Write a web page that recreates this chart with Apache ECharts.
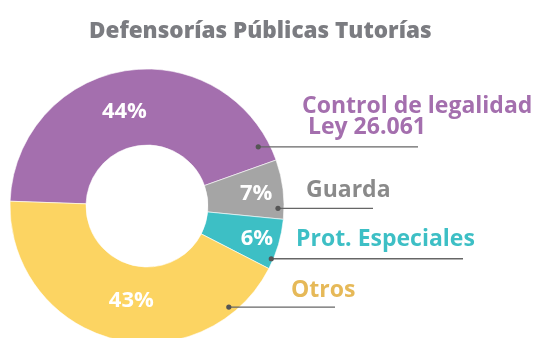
<!DOCTYPE html>
<html>
<head>
<meta charset="utf-8">
<script src="https://cdn.jsdelivr.net/npm/echarts@6/dist/echarts.min.js"></script>
<style>
  html, body { margin: 0; padding: 0; background: #ffffff; }
  #chart { width: 534px; height: 338px; }
</style>
</head>
<body>
<div id="chart"></div>
<script>
// Data
const titleText = 'Defensorías Públicas Tutorías';
const categories = ['Control de legalidad\n Ley 26.061', 'Guarda', 'Prot. Especiales', 'Otros'];
const shares = [44, 7, 6, 43];

// Styling
const sliceColors = ['#a46fae', '#a5a5a5', '#3dbfc5', '#fcd462'];
const nameColors = ['#a46fae', '#8a8a8a', '#3dbfc5', '#e6b958'];
const labelFont = '"Open Sans", sans-serif';
const CX = 147, CY = 206, R_IN = 61, R_OUT = 137;
const START_ANGLE = 178;
// Nudges for the percentage labels inside the ring
const pctOffsets = [[-7, 7], [8, 0], [12, 4], [10, -4]];
// Callouts: anchor angle (deg, ccw from 3 o'clock), anchor radius, line end x, text left x, text middle y
const callouts = [
  { angle: 28, r: 126, lineEnd: 418, textX: 302, textY: 117 },
  { angle: -1, r: 131, lineEnd: 373, textX: 306, textY: 190 },
  { angle: -23, r: 135, lineEnd: 463, textX: 296, textY: 239 },
  { angle: -51, r: 130, lineEnd: 335, textX: 291, textY: 290 }
];

function anchorOf(i) {
  const a = callouts[i].angle * Math.PI / 180;
  return [CX + callouts[i].r * Math.cos(a), CY - callouts[i].r * Math.sin(a)];
}

const chart = echarts.init(document.getElementById('chart'), null, { renderer: 'canvas' });

const ringData = categories.map((name, i) => ({
  name: name,
  value: shares[i],
  itemStyle: { color: sliceColors[i] },
  label: { offset: pctOffsets[i] }
}));

const calloutData = categories.map((name, i) => ({
  name: name,
  value: shares[i],
  itemStyle: { color: 'transparent' },
  label: { color: nameColors[i] }
}));

const dots = categories.map((_, i) => {
  const p = anchorOf(i);
  return {
    type: 'circle',
    shape: { cx: p[0], cy: p[1], r: 2.6 },
    style: { fill: '#555555' },
    z: 100,
    silent: true
  };
});

chart.setOption({
  animation: false,
  title: {
    text: titleText,
    left: 84,
    top: 15,
    textStyle: {
      fontFamily: '"Open Sans", sans-serif',
      fontWeight: 800,
      fontSize: 22.5,
      color: '#7b7c81'
    }
  },
  series: [
    {
      type: 'pie',
      center: [CX, CY],
      radius: [R_IN, R_OUT],
      startAngle: START_ANGLE,
      clockwise: true,
      avoidLabelOverlap: false,
      silent: true,
      itemStyle: { borderColor: '#ffffff', borderWidth: 0.6 },
      label: {
        show: true,
        position: 'inside',
        formatter: p => p.value + '%',
        color: '#ffffff',
        fontFamily: labelFont,
        fontWeight: 'bold',
        fontSize: 22
      },
      labelLine: { show: false },
      data: ringData
    },
    {
      type: 'pie',
      center: [CX, CY],
      radius: [R_IN, R_OUT],
      startAngle: START_ANGLE,
      clockwise: true,
      avoidLabelOverlap: false,
      silent: true,
      z: 5,
      label: {
        show: true,
        position: 'outside',
        formatter: p => p.name,
        fontFamily: labelFont,
        fontWeight: 'bold',
        fontSize: 23,
        lineHeight: 21
      },
      labelLine: {
        show: true,
        lineStyle: { color: '#666666', width: 1.3 }
      },
      labelLayout: params => {
        const i = params.dataIndex;
        const p = anchorOf(i);
        const c = callouts[i];
        return {
          x: c.textX,
          y: c.textY,
          align: 'left',
          verticalAlign: 'middle',
          labelLinePoints: [[p[0], p[1]], [c.lineEnd, p[1]], [c.lineEnd, p[1]]]
        };
      },
      data: calloutData
    }
  ],
  graphic: dots
});
</script>
</body>
</html>
